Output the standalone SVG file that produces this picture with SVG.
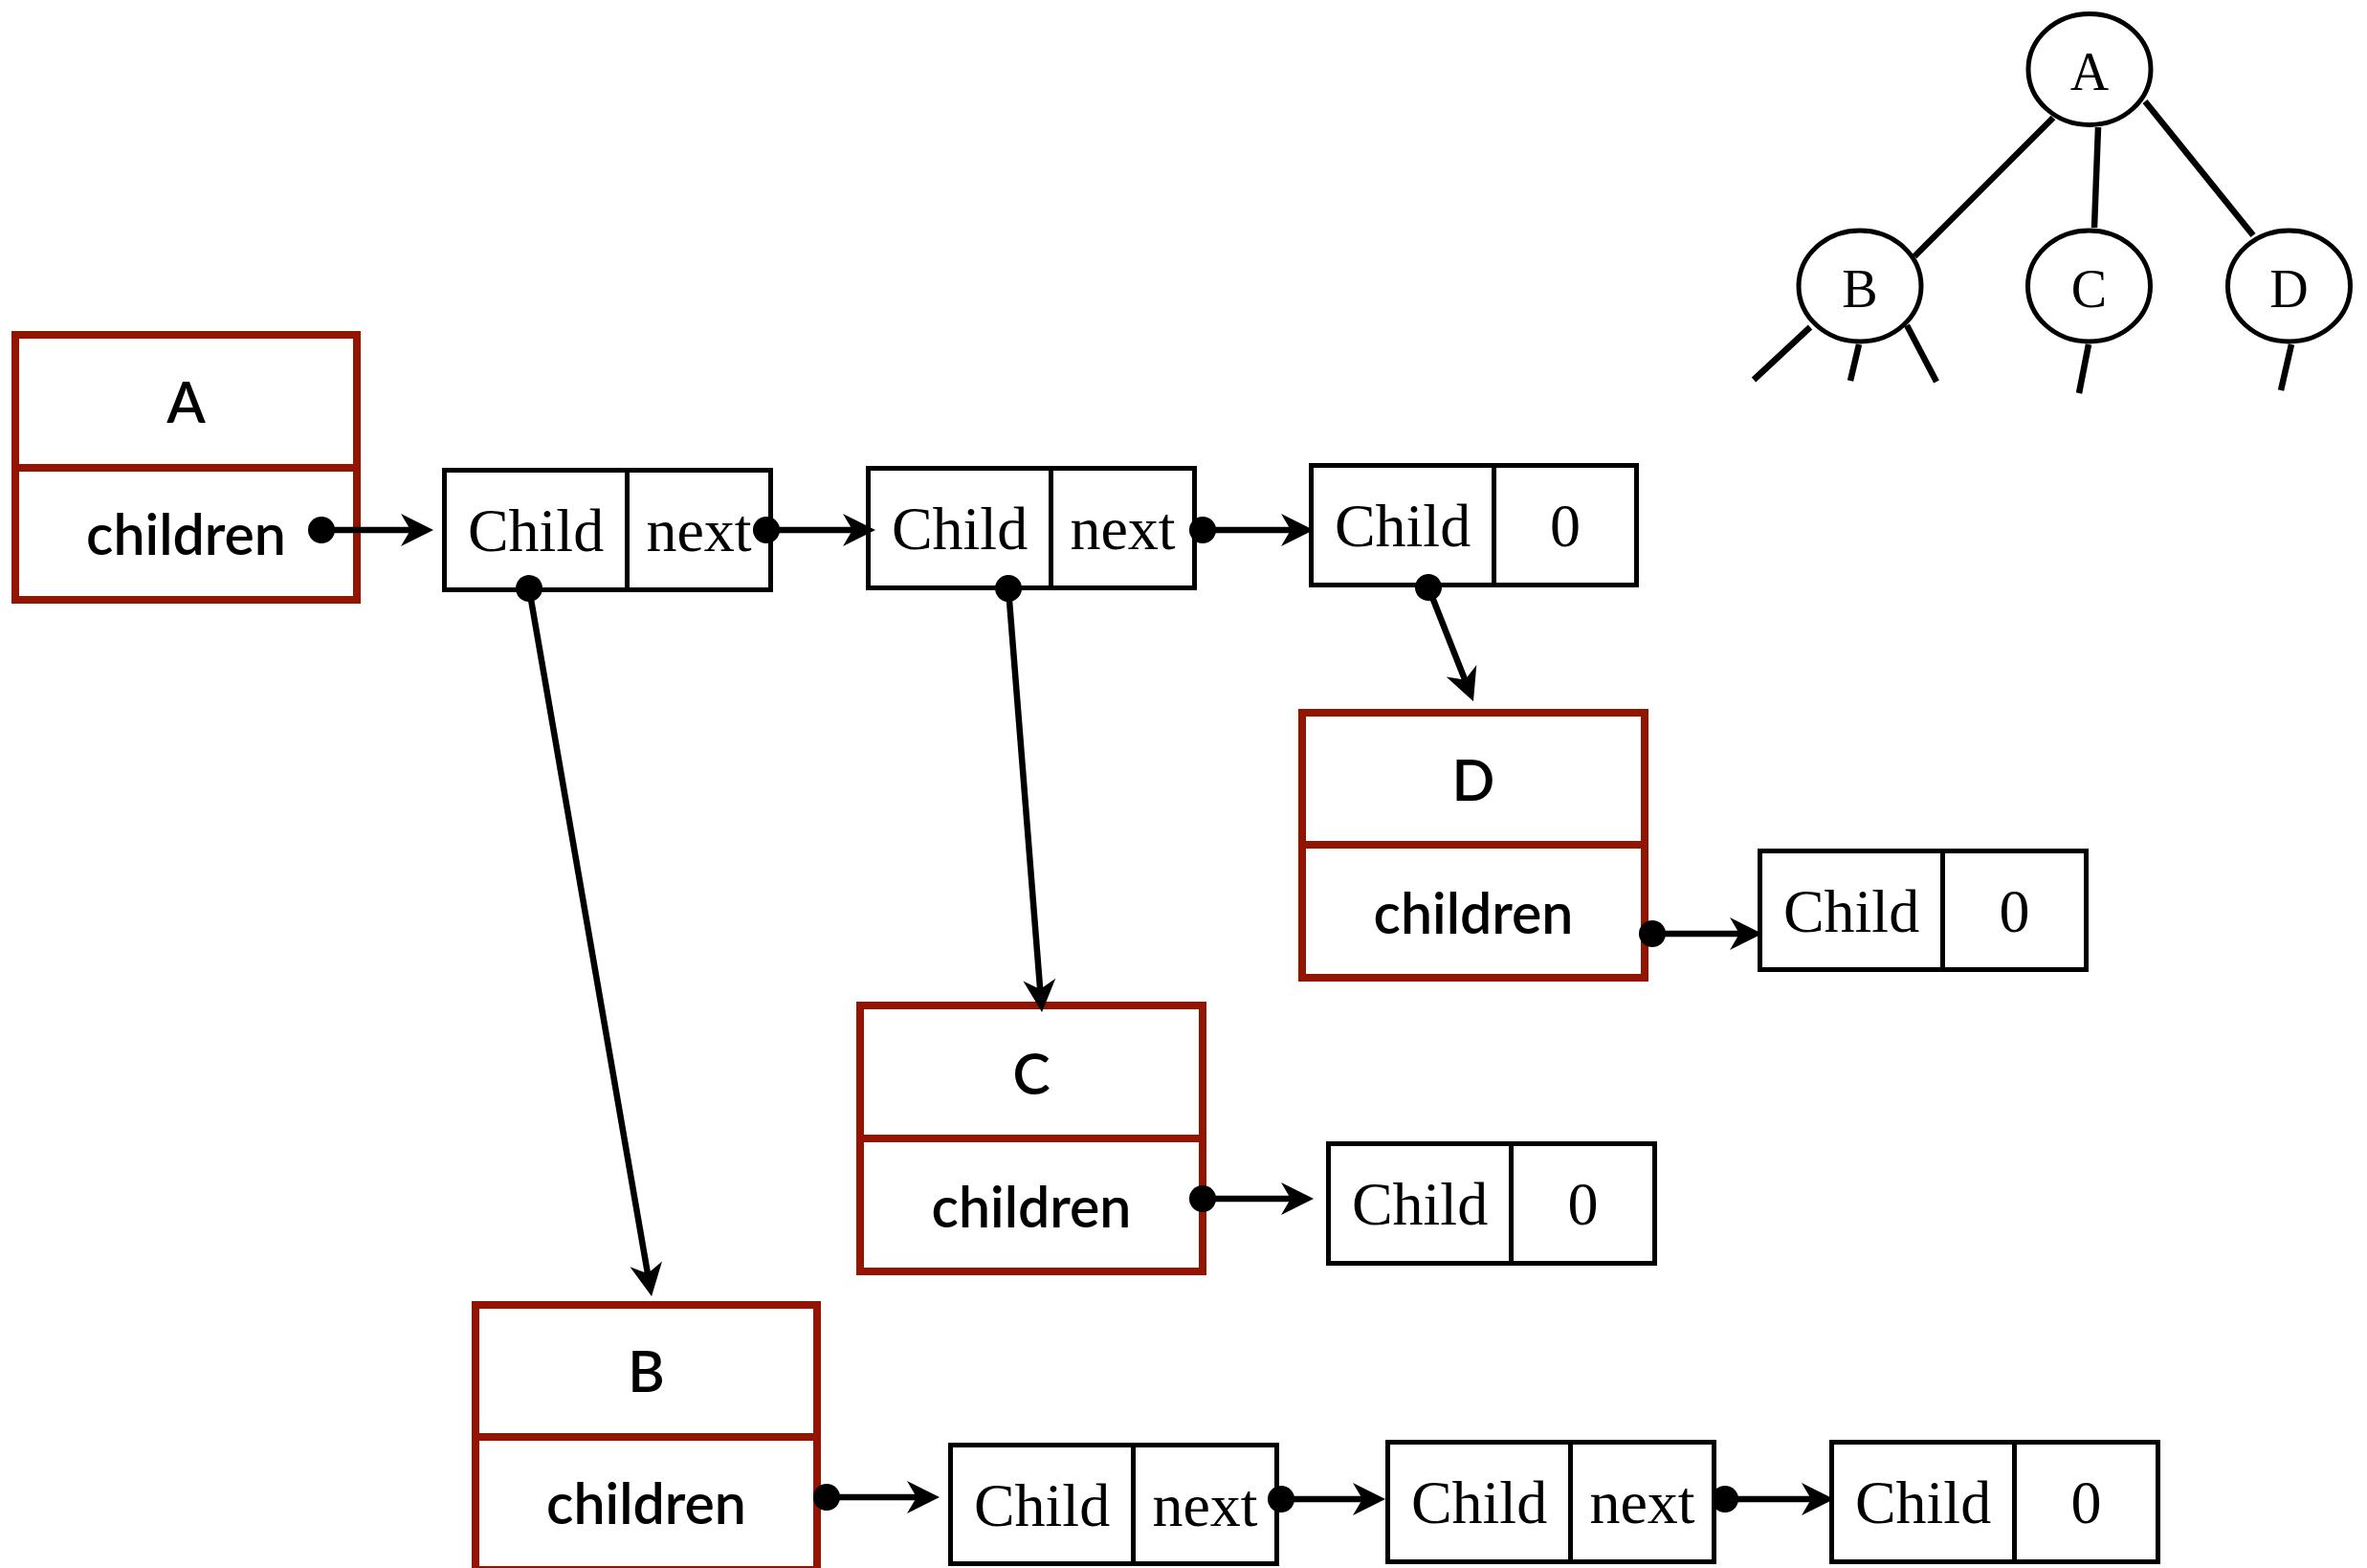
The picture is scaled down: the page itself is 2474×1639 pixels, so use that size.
<svg xmlns="http://www.w3.org/2000/svg" width="2474" height="1639" viewBox="0 0 2474 1639">
  <defs>
    <style>
      .rbox{fill:none;stroke:#931400;stroke-width:8}
      .cbox{fill:none;stroke:#000;stroke-width:5}
      .sans{font-family:Lato,'Liberation Sans',sans-serif;font-size:59px;font-weight:600;text-anchor:middle;fill:#000}
      .serif{font-family:'Liberation Serif',serif;font-size:64px;text-anchor:middle;fill:#000}
      .conn{stroke:#000;stroke-width:6.5;fill:none;marker-start:url(#dot);marker-end:url(#head)}
      .edge{stroke:#000;stroke-width:6.5;fill:none}
      .tnode{fill:#fff;stroke:#000;stroke-width:5}
      .tlabel{font-family:'Liberation Serif',serif;font-size:56px;text-anchor:middle;fill:#000}
    </style>
    <!-- concave arrowhead; the line ends 22px behind the tip -->
    <marker id="head" markerUnits="userSpaceOnUse" orient="auto" markerWidth="80" markerHeight="80" viewBox="-40 -40 80 80" refX="0" refY="0">
      <path d="M22,0 L-12,-17 L-2,0 L-12,17 Z" fill="#000"/>
    </marker>
    <marker id="dot" markerUnits="userSpaceOnUse" orient="auto" markerWidth="40" markerHeight="40" viewBox="-20 -20 40 40" refX="0" refY="0">
      <circle r="14" fill="#000"/>
    </marker>
  </defs>

  <rect width="2474" height="1639" fill="#fff"/>

  <!-- tree overview -->
  <g id="tree">
    <g id="tree-edges">
      <line class="edge" x1="2146" y1="123" x2="2001" y2="268"/>
      <line class="edge" x1="2193" y1="133" x2="2189" y2="238"/>
      <line class="edge" x1="2242" y1="106" x2="2355" y2="246"/>
      <line class="edge" x1="1892" y1="342" x2="1833" y2="397"/>
      <line class="edge" x1="1943" y1="360" x2="1934" y2="398"/>
      <line class="edge" x1="1993" y1="340" x2="2024" y2="399"/>
      <line class="edge" x1="2183" y1="360" x2="2173" y2="411"/>
      <line class="edge" x1="2395" y1="360" x2="2384" y2="408"/>
    </g>
    <g id="tnode-A"><ellipse class="tnode" cx="2184" cy="72.5" rx="64" ry="58"/><text class="tlabel" x="2184" y="94">A</text></g>
    <g id="tnode-B"><ellipse class="tnode" cx="1944" cy="299" rx="64" ry="58"/><text class="tlabel" x="1944" y="321">B</text></g>
    <g id="tnode-C"><ellipse class="tnode" cx="2183.5" cy="299" rx="64" ry="58"/><text class="tlabel" x="2183.5" y="321">C</text></g>
    <g id="tnode-D"><ellipse class="tnode" cx="2392.5" cy="299" rx="64" ry="58"/><text class="tlabel" x="2392.5" y="321">D</text></g>
  </g>

  <!-- node records -->
  <g id="node-A">
    <rect class="rbox" x="16" y="350" width="357" height="277"/>
    <line class="rbox" x1="16" y1="489" x2="373" y2="489"/>
    <text class="sans" x="194.5" y="442">A</text>
    <text class="sans" x="194.5" y="580">children</text>
  </g>
  <g id="node-D">
    <rect class="rbox" x="1361" y="745" width="358" height="277"/>
    <line class="rbox" x1="1361" y1="883" x2="1719" y2="883"/>
    <text class="sans" x="1540" y="837">D</text>
    <text class="sans" x="1540" y="976">children</text>
  </g>
  <g id="node-C">
    <rect class="rbox" x="899" y="1051" width="358" height="278"/>
    <line class="rbox" x1="899" y1="1190" x2="1257" y2="1190"/>
    <text class="sans" x="1078" y="1144">C</text>
    <text class="sans" x="1078" y="1283">children</text>
  </g>
  <g id="node-B">
    <rect class="rbox" x="497" y="1364" width="357" height="277"/>
    <line class="rbox" x1="497" y1="1502" x2="854" y2="1502"/>
    <text class="sans" x="675.5" y="1455">B</text>
    <text class="sans" x="675.5" y="1593">children</text>
  </g>

  <!-- list cells -->
  <g id="cell-A1">
    <rect class="cbox" x="464.5" y="491.5" width="341" height="125"/>
    <line class="cbox" x1="655.5" y1="491.5" x2="655.5" y2="616.5"/>
    <text class="serif" x="560" y="576">Child</text>
    <text class="serif" x="730.5" y="576">next</text>
  </g>
  <g id="cell-A2">
    <rect class="cbox" x="907.5" y="489.5" width="341" height="125"/>
    <line class="cbox" x1="1098.5" y1="489.5" x2="1098.5" y2="614.5"/>
    <text class="serif" x="1003" y="574">Child</text>
    <text class="serif" x="1173.5" y="574">next</text>
  </g>
  <g id="cell-A3">
    <rect class="cbox" x="1370.5" y="486.5" width="340" height="125"/>
    <line class="cbox" x1="1561.5" y1="486.5" x2="1561.5" y2="611.5"/>
    <text class="serif" x="1466" y="571">Child</text>
    <text class="serif" x="1636" y="571">0</text>
  </g>
  <g id="cell-D1">
    <rect class="cbox" x="1839.5" y="889.5" width="341" height="124"/>
    <line class="cbox" x1="2030.5" y1="889.5" x2="2030.5" y2="1013.5"/>
    <text class="serif" x="1935" y="974">Child</text>
    <text class="serif" x="2105.5" y="974">0</text>
  </g>
  <g id="cell-C1">
    <rect class="cbox" x="1388.5" y="1195.5" width="341" height="125"/>
    <line class="cbox" x1="1579.5" y1="1195.5" x2="1579.5" y2="1320.5"/>
    <text class="serif" x="1484" y="1280">Child</text>
    <text class="serif" x="1654.5" y="1280">0</text>
  </g>
  <g id="cell-B1">
    <rect class="cbox" x="993.5" y="1510.5" width="341" height="124"/>
    <line class="cbox" x1="1184.5" y1="1510.5" x2="1184.5" y2="1634.5"/>
    <text class="serif" x="1089" y="1595">Child</text>
    <text class="serif" x="1259.5" y="1595">next</text>
  </g>
  <g id="cell-B2">
    <rect class="cbox" x="1450.5" y="1507.5" width="341" height="125"/>
    <line class="cbox" x1="1641.5" y1="1507.5" x2="1641.5" y2="1632.5"/>
    <text class="serif" x="1546" y="1592">Child</text>
    <text class="serif" x="1716.5" y="1592">next</text>
  </g>
  <g id="cell-B3">
    <rect class="cbox" x="1914.5" y="1507.5" width="341" height="125"/>
    <line class="cbox" x1="2105.5" y1="1507.5" x2="2105.5" y2="1632.5"/>
    <text class="serif" x="2010" y="1592">Child</text>
    <text class="serif" x="2180.5" y="1592">0</text>
  </g>

  <!-- pointers -->
  <g id="connectors">
    <line class="conn" x1="336" y1="554" x2="431" y2="554"/>
    <line class="conn" x1="801" y1="554" x2="893" y2="554"/>
    <line class="conn" x1="1257" y1="554" x2="1351" y2="554"/>
    <line class="conn" x1="553" y1="615" x2="677.3" y2="1333.3"/>
    <line class="conn" x1="1054" y1="615" x2="1087.3" y2="1036.1"/>
    <line class="conn" x1="1493" y1="614" x2="1531.9" y2="712.5"/>
    <line class="conn" x1="1727" y1="976" x2="1820" y2="976"/>
    <line class="conn" x1="1257" y1="1253" x2="1351" y2="1253"/>
    <line class="conn" x1="864" y1="1565" x2="960" y2="1565"/>
    <line class="conn" x1="1339" y1="1567" x2="1426" y2="1567"/>
    <line class="conn" x1="1803" y1="1567" x2="1895" y2="1567"/>
  </g>
</svg>
